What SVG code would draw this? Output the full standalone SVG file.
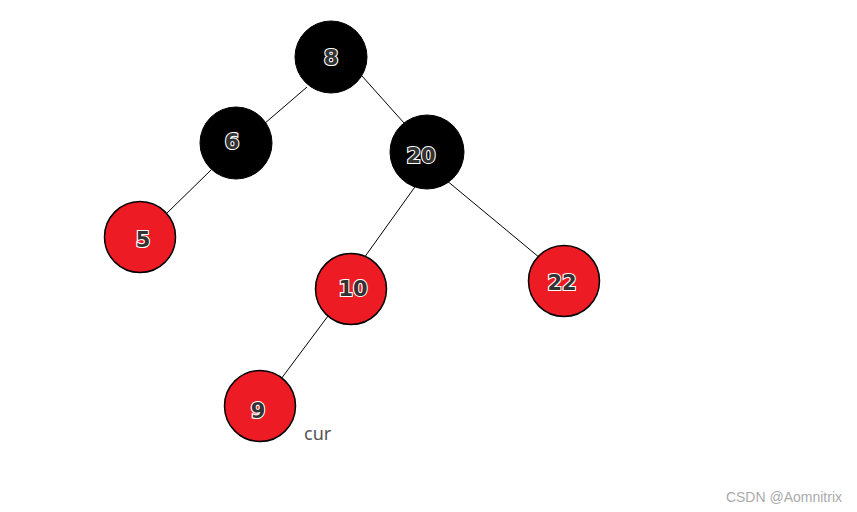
<svg xmlns="http://www.w3.org/2000/svg" width="857" height="512" viewBox="0 0 857 512">
<style>
.blk{fill:#000;stroke:#000;stroke-width:1}
.red{fill:#ed1c24;stroke:#000;stroke-width:1.5}
.lbl{font-family:"DejaVu Sans","Liberation Sans",sans-serif;font-weight:bold;font-size:21px;fill:#333;stroke:#fff;stroke-width:2.2;paint-order:stroke;text-anchor:middle;dominant-baseline:central}
.edge{stroke:#000;stroke-width:1;fill:none}
</style>
<rect width="857" height="512" fill="#fff"/>
<g id="connectors">
<line class="edge" x1="307" y1="87" x2="264" y2="124"/>
<line class="edge" x1="362" y1="76" x2="404" y2="123"/>
<line class="edge" x1="211" y1="170" x2="166" y2="214"/>
<line class="edge" x1="417" y1="184" x2="364" y2="258"/>
<line class="edge" x1="446" y1="180" x2="540" y2="258"/>
<line class="edge" x1="328" y1="316" x2="281" y2="379"/>
</g>
<g id="n8"><circle class="blk" cx="331" cy="57" r="36"/><text class="lbl" x="331" y="58">8</text></g>
<g id="n6"><circle class="blk" cx="236" cy="143" r="36"/><text class="lbl" x="232" y="142">6</text></g>
<g id="n20"><circle class="blk" cx="427" cy="152" r="37"/><text class="lbl" x="421" y="156">20</text></g>
<g id="n5"><circle class="red" cx="140" cy="237" r="35.5"/><text class="lbl" x="143" y="240">5</text></g>
<g id="n10"><circle class="red" cx="351" cy="289" r="35.5"/><text class="lbl" x="353" y="289">10</text></g>
<g id="n22"><circle class="red" cx="564" cy="281" r="35.5"/><text class="lbl" x="562" y="283">22</text></g>
<g id="n9"><circle class="red" cx="260" cy="406" r="35.5"/><text class="lbl" x="258" y="411">9</text></g>
<text x="304" y="440" font-family="Noto Sans,Open Sans,sans-serif" font-size="18" fill="#555">cur</text>
<text x="842" y="502" font-family="Liberation Sans,Arial,sans-serif" font-size="14" fill="#aaa" text-anchor="end">CSDN @Aomnitrix</text>
</svg>
